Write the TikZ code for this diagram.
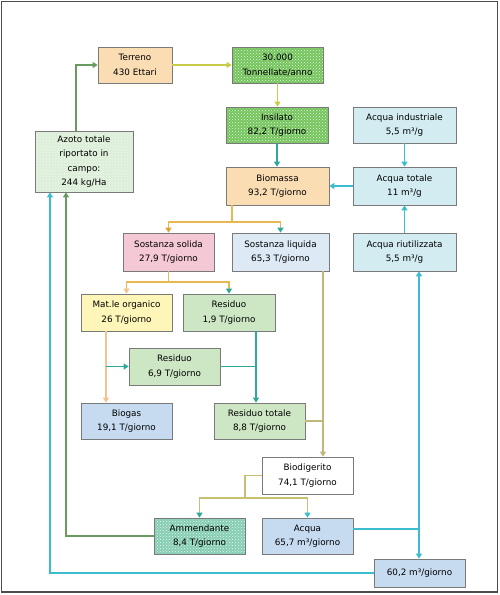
\documentclass[tikz,border=0pt]{standalone}
\usepackage{fontspec}
\setmainfont{DejaVu Sans}
\usetikzlibrary{arrows.meta,patterns}
\definecolor{orL}{HTML}{FBDDB4}
\definecolor{grP}{HTML}{74C45C}
\definecolor{blL}{HTML}{D3ECF2}
\definecolor{blS}{HTML}{DDEAF6}
\definecolor{pkL}{HTML}{F5C8D6}
\definecolor{ylL}{HTML}{FEF5B8}
\definecolor{grL}{HTML}{CDE6C4}
\definecolor{blM}{HTML}{C6DBF0}
\definecolor{azF}{HTML}{DCEFD8}
\definecolor{amF}{HTML}{86CDB4}
\definecolor{bxD}{HTML}{7A7A7A}
\definecolor{cGr}{HTML}{6A9A60}
\definecolor{cYg}{HTML}{C8CC48}
\definecolor{cTe}{HTML}{2EA89A}
\definecolor{cCy}{HTML}{3CBCD0}
\definecolor{cOr}{HTML}{E8B850}
\definecolor{cOrT}{HTML}{E0A030}
\definecolor{cLo}{HTML}{F3C48E}
\definecolor{cKh}{HTML}{C2B67A}
\definecolor{cOl}{HTML}{C8C070}
\tikzset{
  box/.style={draw=bxD, line width=0.7pt, align=center, inner sep=1pt,
    font=\fontsize{8.8}{14.5}\selectfont},
  chk/.style={box, preaction={fill=grP}, pattern=crosshatch dots, pattern color=white!85!grP},
  conn/.style={line width=1.3pt},
  >={Triangle[width=6pt,length=5pt]},
}
\begin{document}
\begin{tikzpicture}[x=1pt,y=-1pt]
\useasboundingbox (0,0) rectangle (500,595);
\fill[white] (0,0) rectangle (500,595);
\draw[line width=1.6pt, black!70] (1.5,1.5) rectangle (497.5,592);

% nodes
\node[box, fill=orL, minimum width=74pt, minimum height=36pt] (terreno) at (135,65) {Terreno\\430 Ettari};
\node[chk, minimum width=91pt, minimum height=36pt] (ton) at (277.5,65) {30.000\\Tonnellate/anno};
\node[chk, minimum width=102pt, minimum height=36pt] (insilato) at (277,125) {Insilato\\82,2 T/giorno};
\node[box, fill=blL, minimum width=103pt, minimum height=36pt] (acquaind) at (404.5,125) {Acqua industriale\\5,5 m³/g};
\node[box, preaction={fill=azF}, pattern=crosshatch dots, pattern color=white!70!azF, minimum width=98pt, minimum height=61pt] (azoto) at (84,161.5) {Azoto totale\\riportato in\\campo:\\244 kg/Ha};
\node[box, fill=orL, minimum width=103pt, minimum height=38pt] (biomassa) at (277.5,186) {Biomassa\\93,2 T/giorno};
\node[box, fill=blL, minimum width=103pt, minimum height=38pt] (acquatot) at (404.5,186) {Acqua totale\\11 m³/g};
\node[box, fill=pkL, minimum width=91pt, minimum height=38pt] (solida) at (168.5,252) {Sostanza solida\\27,9 T/giorno};
\node[box, fill=blS, minimum width=97pt, minimum height=38pt] (liquida) at (280.5,252) {Sostanza liquida\\65,3 T/giorno};
\node[box, fill=blL, minimum width=103pt, minimum height=38pt] (riut) at (404.5,252) {Acqua riutilizzata\\5,5 m³/g};
\node[box, fill=ylL, minimum width=91pt, minimum height=37pt] (mat) at (126.5,312.5) {Mat.le organico\\26 T/giorno};
\node[box, fill=grL, minimum width=92pt, minimum height=37pt] (res1) at (229,312.5) {Residuo\\1,9 T/giorno};
\node[box, fill=grL, minimum width=91pt, minimum height=37pt] (res2) at (174.5,366.5) {Residuo\\6,9 T/giorno};
\node[box, fill=blM, minimum width=91pt, minimum height=36pt] (biogas) at (126.5,421) {Biogas\\19,1 T/giorno};
\node[box, fill=grL, minimum width=91pt, minimum height=36pt] (restot) at (259.5,421) {Residuo totale\\8,8 T/giorno};
\node[box, fill=white, minimum width=91pt, minimum height=37pt] (biodig) at (307.5,475.5) {Biodigerito\\74,1 T/giorno};
\node[box, preaction={fill=amF}, pattern=crosshatch dots, pattern color=white!80!amF, minimum width=91pt, minimum height=36pt] (ammend) at (199.5,536) {Ammendante\\8,4 T/giorno};
\node[box, fill=blM, minimum width=91pt, minimum height=36pt] (acqua) at (307.5,536) {Acqua\\65,7 m³/giorno};
\node[box, fill=blM, minimum width=91pt, minimum height=28pt] (m60) at (419.5,573) {60,2 m³/giorno};

% helper coordinates
\coordinate (az) at (76,0);
\coordinate (bsplit) at (232,222);
\coordinate (ssplit) at (168.5,282);
\coordinate (mx) at (106,0);
\coordinate (rx) at (256,0);
\coordinate (lx) at (323,0);
\coordinate (bd) at (245,498);
\coordinate (ax) at (66,0);
\coordinate (cx) at (50,0);
\coordinate (wx) at (419,0);
\coordinate (aj) at (419,529);

% connectors
\draw[conn, cGr, ->] (azoto.north -| az) |- (terreno.west);
\draw[conn, cYg, ->] (terreno.east) -- (ton.west);
\draw[conn, cYg, ->] (ton.south) -- (ton.south |- insilato.north);
\draw[conn, cTe, ->] (insilato.south) -- (insilato.south |- biomassa.north);
\draw[conn, cCy, ->] (acquaind.south) -- (acquatot.north);
\draw[conn, cCy, ->] (acquatot.west) -- (biomassa.east);
\draw[conn, cCy, ->] (riut.north) -- (acquatot.south);

\draw[conn, cOr] (biomassa.south -| bsplit) -- (bsplit);
\draw[conn, cOr, -{Triangle[width=6pt,length=5pt,color=cOrT]}] (bsplit) -| (solida.north);
\draw[conn, cOr, -{Triangle[width=6pt,length=5pt,color=cTe]}] (bsplit) -| (liquida.north);

\draw[conn, cOr] (solida.south) -- (ssplit);
\draw[conn, cOr, -{Triangle[width=6pt,length=5pt,color=cLo]}] (ssplit) -| (mat.north);
\draw[conn, cOr, -{Triangle[width=6pt,length=5pt,color=cTe]}] (ssplit) -| (res1.north);

\draw[conn, cLo, ->] (mat.south -| mx) -- (biogas.north -| mx);
\draw[conn, cTe, ->] (mx |- res2.west) -- (res2.west);

\draw[conn, cTe, ->] (res1.south -| rx) -- (restot.north -| rx);
\draw[conn, cTe] (res2.east) -- (rx |- res2.east);

\draw[conn, cKh, ->] (liquida.south -| lx) -- (biodig.north -| lx);
\draw[conn, cKh] (restot.east) -- (lx |- restot.east);

\draw[conn, cOl] (biodig.west) -| (bd);
\draw[conn, cOl, -{Triangle[width=6pt,length=5pt,color=cTe]}] (bd) -| (ammend.north);
\draw[conn, cOl, -{Triangle[width=6pt,length=5pt,color=cCy]}] (bd) -| (acqua.north);

\draw[conn, cGr, ->] (ammend.west) -| (azoto.south -| ax);
\draw[conn, cCy, <->] (riut.south -| wx) -- (m60.north -| wx);
\draw[conn, cCy] (acqua.east |- aj) -- (aj);
\draw[conn, cCy, ->] (m60.west) -| (azoto.south -| cx);
\end{tikzpicture}
\end{document}
